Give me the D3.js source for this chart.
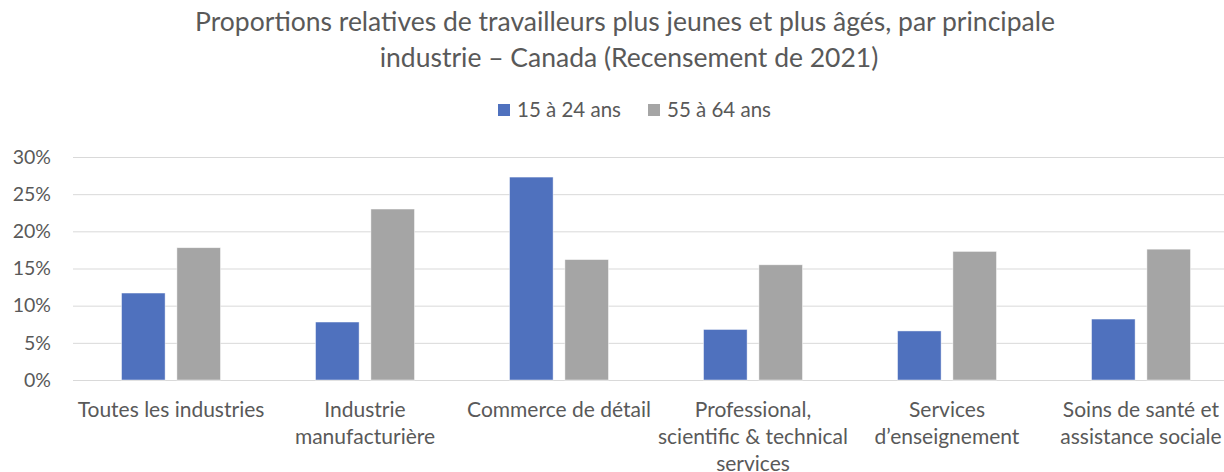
<!DOCTYPE html>
<html>
<head>
<meta charset="utf-8">
<script src="https://cdn.jsdelivr.net/npm/d3@7"></script>
<style>
  body { margin: 0; background: #fff; }
  text { font-family: Lato, "Open Sans", sans-serif; fill: #595959; }
</style>
</head>
<body>
<script>
var categories = [
  ["Toutes les industries"],
  ["Industrie", "manufacturière"],
  ["Commerce de détail"],
  ["Professional,", "scientific & technical", "services"],
  ["Services", "d\u2019enseignement"],
  ["Soins de santé et", "assistance sociale"]
];
var seriesNames = ["15 à 24 ans", "55 à 64 ans"];
var young = [11.7, 7.8, 27.3, 6.8, 6.6, 8.2];
var older = [17.8, 23.0, 16.2, 15.5, 17.3, 17.6];
var yTicks = [0, 5, 10, 15, 20, 25, 30];
var colors = ["#4f71be", "#a5a5a5"];

var W = 1224, H = 472;
var svg = d3.select("body").append("svg")
  .attr("width", W).attr("height", H);

var y = d3.scaleLinear().domain([0, 30]).range([380, 157]);
var x0 = d3.scaleBand().domain(d3.range(categories.length))
  .range([74, 1238]).paddingInner(0.49).paddingOuter(0.245);
var x1 = d3.scaleBand().domain([0, 1]).range([0, x0.bandwidth()]).paddingInner(0.213);

// title
svg.append("text").attr("x", 625).attr("y", 31).attr("text-anchor", "middle")
  .style("font-size", "26.5px").text("Proportions relatives de travailleurs plus jeunes et plus âgés, par principale");
svg.append("text").attr("x", 629).attr("y", 67).attr("text-anchor", "middle")
  .style("font-size", "26.5px").text("industrie \u2013 Canada (Recensement de 2021)");

// legend
var leg = svg.append("g");
var legX = [498, 648];
seriesNames.forEach(function(s, i) {
  leg.append("rect").attr("x", legX[i]).attr("y", 104).attr("width", 12).attr("height", 12)
    .attr("fill", colors[i]);
  leg.append("text").attr("x", legX[i] + 19).attr("y", 117)
    .style("font-size", "20.5px").text(s);
});

// gridlines
svg.append("g").selectAll("line").data(yTicks).enter().append("line")
  .attr("x1", 73).attr("x2", W)
  .attr("y1", function(d) { return y(d) + 0.5; })
  .attr("y2", function(d) { return y(d) + 0.5; })
  .attr("stroke", "#d9d9d9").attr("stroke-width", 1);

// y labels
svg.append("g").selectAll("text").data(yTicks).enter().append("text")
  .attr("x", 51).attr("y", function(d) { return y(d); })
  .attr("dy", "0.35em").attr("text-anchor", "end")
  .style("font-size", "19.5px")
  .text(function(d) { return d + "%"; });

// bars
var groups = svg.append("g").selectAll("g").data(categories).enter().append("g")
  .attr("transform", function(d, i) { return "translate(" + x0(i) + ",0)"; });
groups.selectAll("rect")
  .data(function(d, i) { return [young[i], older[i]]; })
  .enter().append("rect")
  .attr("x", function(d, j) { return x1(j); })
  .attr("y", function(d) { return y(d); })
  .attr("width", x1.bandwidth())
  .attr("height", function(d) { return y(0) - y(d); })
  .attr("fill", function(d, j) { return colors[j]; })
  .attr("stroke", "#ffffff").attr("stroke-opacity", 0.6).attr("stroke-width", 0.75);

// x labels
var lab = svg.append("g").selectAll("text").data(categories).enter().append("text")
  .attr("text-anchor", "middle")
  .attr("x", function(d, i) { return x0(i) + x0.bandwidth() / 2; })
  .attr("y", 417)
  .style("font-size", "21px");
lab.selectAll("tspan").data(function(d) { return d; }).enter().append("tspan")
  .attr("x", function() { return d3.select(this.parentNode).attr("x"); })
  .attr("dy", function(d, k) { return k === 0 ? 0 : 27; })
  .text(function(d) { return d; });
</script>
</body>
</html>
